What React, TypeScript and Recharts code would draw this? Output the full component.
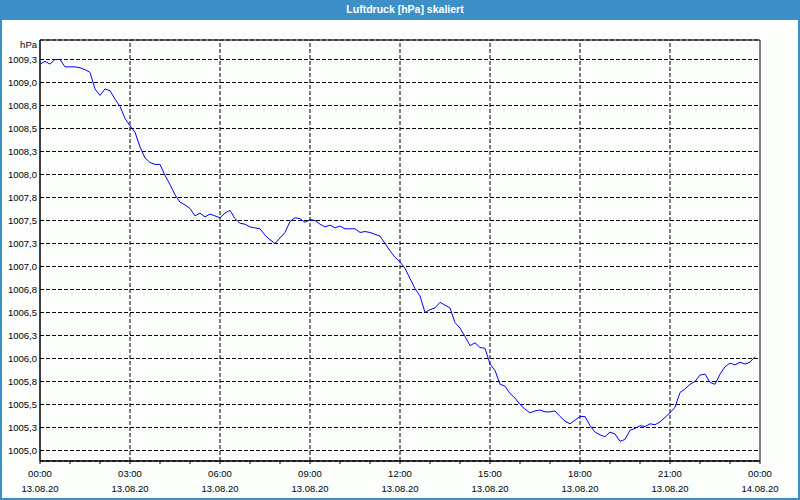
import React from 'react';
import { LineChart, Line, XAxis, YAxis, CartesianGrid, ReferenceLine, ReferenceArea } from 'recharts';

// Luftdruck, one reading every 10 minutes from 00:00 (13.08.20) to 23:50
const pressure = [
  1009.20, 1009.23, 1009.20, 1009.25, 1009.25, 1009.17, 1009.17, 1009.17, 1009.16, 1009.14,
  1009.11, 1008.93, 1008.86, 1008.93, 1008.91, 1008.82, 1008.74, 1008.61, 1008.53, 1008.46,
  1008.30, 1008.18, 1008.13, 1008.11, 1008.11, 1007.99, 1007.89, 1007.78, 1007.70, 1007.67,
  1007.63, 1007.55, 1007.58, 1007.54, 1007.57, 1007.55, 1007.53, 1007.58, 1007.61, 1007.52,
  1007.47, 1007.46, 1007.43, 1007.42, 1007.41, 1007.34, 1007.29, 1007.25, 1007.31, 1007.37,
  1007.49, 1007.53, 1007.52, 1007.48, 1007.51, 1007.50, 1007.46, 1007.43, 1007.45, 1007.42,
  1007.44, 1007.41, 1007.41, 1007.41, 1007.37, 1007.38, 1007.37, 1007.35, 1007.33, 1007.25,
  1007.17, 1007.10, 1007.05, 1006.98, 1006.87, 1006.76, 1006.68, 1006.50, 1006.53, 1006.55,
  1006.61, 1006.58, 1006.55, 1006.39, 1006.33, 1006.24, 1006.14, 1006.17, 1006.12, 1006.11,
  1005.94, 1005.87, 1005.72, 1005.70, 1005.62, 1005.57, 1005.50, 1005.45, 1005.41, 1005.43,
  1005.44, 1005.42, 1005.42, 1005.43, 1005.37, 1005.32, 1005.29, 1005.33, 1005.37, 1005.37,
  1005.27, 1005.20, 1005.17, 1005.15, 1005.20, 1005.18, 1005.10, 1005.12, 1005.22, 1005.24,
  1005.27, 1005.26, 1005.29, 1005.28, 1005.31, 1005.36, 1005.41, 1005.47, 1005.63, 1005.67,
  1005.72, 1005.75, 1005.82, 1005.83, 1005.74, 1005.72, 1005.83, 1005.91, 1005.95, 1005.93,
  1005.96, 1005.94, 1005.96, 1006.02,
];

const hourTicks = [0, 60, 120, 180, 240, 300, 360, 420, 480, 540, 600, 660, 720, 780, 840, 900, 960, 1020, 1080, 1140, 1200, 1260, 1320, 1380, 1440];
const labelMinutes = [0, 180, 360, 540, 720, 900, 1080, 1260, 1440];
const timeLabels = ['00:00', '03:00', '06:00', '09:00', '12:00', '15:00', '18:00', '21:00', '00:00'];
const dateLabels = ['13.08.20', '13.08.20', '13.08.20', '13.08.20', '13.08.20', '13.08.20', '13.08.20', '13.08.20', '14.08.20'];
const gridMinutes = [180, 360, 540, 720, 900, 1080, 1260];
const yTicks = [1005, 1005.25, 1005.5, 1005.75, 1006, 1006.25, 1006.5, 1006.75, 1007, 1007.25, 1007.5, 1007.75, 1008, 1008.25, 1008.5, 1008.75, 1009, 1009.25];

const Y_MIN = 1004.8859;
const Y_MAX = 1009.462;
const BLUE = '#3d8fc8';
const FONT = '"Liberation Sans", Arial, sans-serif';
const DASH = '4 2';

const data = pressure.map((p, i) => ({ t: i * 10, p }));

function TimeTick({ x, y, payload }: any) {
  const i = labelMinutes.indexOf(payload.value);
  if (i < 0) return <g />;
  return (
    <g>
      <text x={x} y={y} dy={12.7} textAnchor="middle" fontSize={9.5} fontFamily={FONT} fill="#000">
        {timeLabels[i]}
      </text>
      <text x={x} y={y} dy={28.3} textAnchor="middle" fontSize={9.5} fontFamily={FONT} fill="#000">
        {dateLabels[i]}
      </text>
    </g>
  );
}

export default function App() {
  return (
    <div style={{ position: 'relative', width: 800, height: 500, background: '#fcfefc', fontFamily: FONT }}>
      <style>{'body{margin:0}'}</style>
      <LineChart
        width={800}
        height={500}
        data={data}
        margin={{ top: 40, right: 40, bottom: 0, left: 0 }}
        style={{ position: 'absolute', left: 0, top: 0 }}
      >
        <CartesianGrid vertical={false} stroke="#000" strokeDasharray={DASH} />
        {gridMinutes.map((m) => (
          <ReferenceLine key={m} x={m} stroke="#000" strokeDasharray={DASH} />
        ))}
        <ReferenceArea x1={0} x2={1440} y1={Y_MIN} y2={Y_MAX} fill="none" stroke="#000" strokeOpacity={1} fillOpacity={0} />
        <XAxis
          dataKey="t"
          type="number"
          domain={[0, 1440]}
          ticks={hourTicks}
          interval={0}
          height={39}
          tickSize={3}
          tickMargin={0}
          stroke="#000"
          tickLine={{ stroke: '#000' }}
          tick={<TimeTick />}
        />
        <YAxis
          type="number"
          domain={[Y_MIN, Y_MAX]}
          allowDataOverflow
          ticks={yTicks}
          interval={0}
          width={40}
          tickLine={false}
          tickSize={0}
          tickMargin={3}
          stroke="#000"
          tick={{ fontSize: 9.5, fontFamily: FONT, fill: '#000' }}
          tickFormatter={(v: number) => v.toFixed(1).replace('.', ',')}
        />
        <Line type="linear" dataKey="p" stroke="#0000ff" strokeWidth={1} dot={false} isAnimationActive={false} />
      </LineChart>
      <div style={{ position: 'absolute', left: 0, top: 0, width: 800, height: 20, background: BLUE, color: '#fff', fontWeight: 'bold', fontSize: 10.5, lineHeight: '19px', textAlign: 'center', textIndent: 10 }}>
        Luftdruck [hPa] skaliert
      </div>
      <div style={{ position: 'absolute', left: 0, top: 0, width: 800, height: 500, boxSizing: 'border-box', border: `2px solid ${BLUE}`, pointerEvents: 'none' }} />
      <div style={{ position: 'absolute', right: 763, top: 39, fontSize: 9.5, color: '#000' }}>hPa</div>
    </div>
  );
}
